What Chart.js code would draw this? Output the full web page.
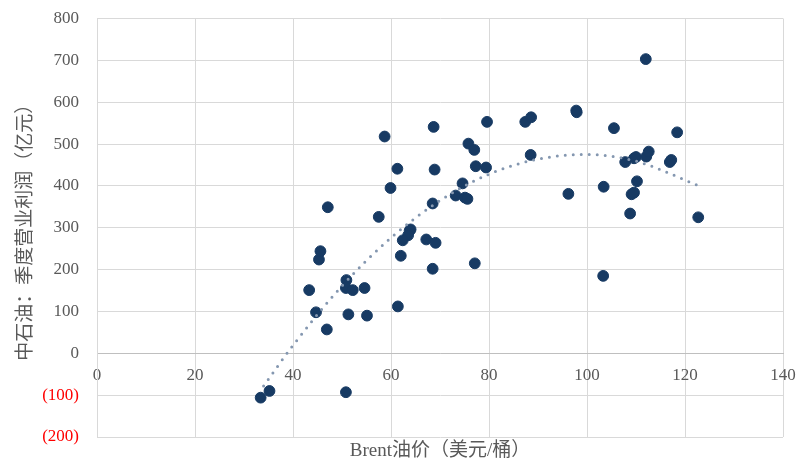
<!DOCTYPE html>
<html>
<head>
<meta charset="utf-8">
<script src="https://cdn.jsdelivr.net/npm/chart.js@4"></script>
<style>
  html, body { margin: 0; padding: 0; background: #fff; }
  #wrap { width: 796px; height: 462px; }
</style>
</head>
<body>
<div id="wrap"><canvas id="chart" width="796" height="462"></canvas></div>
<script>
// Brent price (USD/bbl) vs PetroChina quarterly operating profit (100m CNY)
const brentPrice = [
  33.4, 35.2, 50.8, 43.3, 44.7, 45.3, 45.6, 46.9, 50.9, 50.8,
  52.2, 54.6, 51.3, 55.1, 58.7, 47.1, 57.5, 61.3, 59.9, 68.7,
  79.6, 75.8, 77.0, 68.9, 77.3, 79.4, 74.6, 73.2, 75.1, 75.6,
  68.5, 63.8, 64.0, 63.5, 62.4, 67.2, 69.1, 62.0, 68.5, 77.1,
  61.4, 87.4, 88.6, 97.8, 97.9, 105.5, 88.5, 96.2, 103.4, 103.3,
  107.8, 109.6, 110.0, 112.1, 112.6, 116.9, 117.2, 110.2, 109.1, 109.6,
  108.8, 122.7, 112.0, 118.4
];
const opProfit = [
  -106, -90, -93, 151, 98, 224, 244, 57, 175, 156,
  151, 156, 93, 90, 518, 349, 326, 441, 395, 541,
  553, 501, 486, 439, 447, 444, 406, 377, 372, 369,
  358, 293, 296, 282, 270, 272, 264, 233, 202, 215,
  112, 553, 564, 580, 576, 538, 474, 381, 398, 185,
  457, 466, 469, 470, 482, 457, 462, 411, 380, 384,
  334, 325, 703, 528
];
// dotted trend curve
const trendX = [34, 40, 50, 60, 70, 80, 90, 100, 110, 122.5];
const trendY = [-78, 19, 161, 276, 365, 428, 464, 475, 459, 402];

const xTicks = [0, 20, 40, 60, 80, 100, 120, 140];

const FONT = "'Times New Roman', 'Liberation Serif', 'Noto Sans CJK SC', serif";
const gray = '#595959';

const points = brentPrice.map((x, i) => ({ x: x, y: opProfit[i] }));
const trend = trendX.map((x, i) => ({ x: x, y: trendY[i] }));

function noPad(scale) {
  scale.paddingTop = 0;
  scale.paddingBottom = 0;
  scale.paddingLeft = 0;
  scale.paddingRight = 0;
}

new Chart(document.getElementById('chart'), {
  type: 'scatter',
  data: {
    datasets: [
      {
        type: 'line',
        data: trend,
        order: 0,
        borderColor: '#8497b0',
        borderWidth: 3,
        borderDash: [0, 8],
        borderCapStyle: 'round',
        cubicInterpolationMode: 'monotone',
        pointRadius: 0,
        fill: false
      },
      {
        data: points,
        order: 1,
        backgroundColor: '#173a63',
        borderColor: '#173a63',
        pointRadius: 5.4,
        pointHoverRadius: 5.4
      }
    ]
  },
  options: {
    responsive: false,
    animation: false,
    layout: { padding: { top: 18.5, right: 13, bottom: 0, left: 0 } },
    plugins: {
      legend: { display: false },
      tooltip: { enabled: false }
    },
    scales: {
      x: {
        type: 'linear',
        position: { y: 0 },
        min: 0,
        max: 140,
        afterBuildTicks: scale => { scale.ticks = xTicks.map(v => ({ value: v })); },
        afterFit: noPad,
        grid: { color: '#d9d9d9', lineWidth: 1, drawTicks: false },
        border: { color: '#bfbfbf', width: 1 },
        ticks: { color: gray, font: { family: FONT, size: 17 }, padding: 12, maxRotation: 0 }
      },
      xt: {
        type: 'linear',
        position: 'bottom',
        min: 0,
        max: 140,
        afterFit: scale => { noPad(scale); scale.height = 25; },
        grid: { display: false, drawTicks: false },
        border: { display: false },
        ticks: { display: false },
        title: {
          display: true,
          text: 'Brent油价（美元/桶）',
          color: gray,
          font: { family: FONT, size: 19 },
          padding: { top: 0, bottom: 0 }
        }
      },
      y: {
        min: -200,
        max: 800,
        afterFit: scale => { noPad(scale); scale.width = 97; },
        grid: { color: '#d9d9d9', lineWidth: 1, drawTicks: false },
        border: { color: '#d9d9d9' },
        ticks: {
          stepSize: 100,
          padding: 18,
          color: ctx => ctx.tick.value < 0 ? '#ff0000' : gray,
          font: { family: FONT, size: 17 },
          callback: v => v < 0 ? '(' + (-v) + ')' : String(v)
        },
        title: {
          display: true,
          text: '中石油：季度营业利润（亿元）',
          color: gray,
          font: { family: FONT, size: 19 },
          padding: { top: 15, bottom: 0 }
        }
      }
    }
  }
});
</script>
</body>
</html>
